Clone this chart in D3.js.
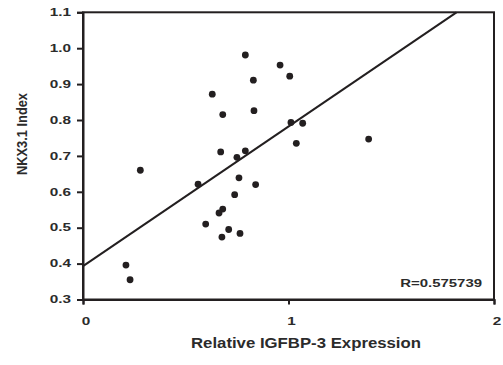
<!DOCTYPE html>
<html>
<head>
<meta charset="utf-8">
<script src="https://cdn.jsdelivr.net/npm/d3@7"></script>
<style>
  html, body { margin: 0; padding: 0; background: #fff; }
  svg { display: block; }
  text { font-family: "Liberation Sans", Arial, sans-serif; font-weight: bold; fill: #2b2b2b; }
</style>
</head>
<body>
<svg id="chart" width="503" height="365"></svg>
<script>
// ---- data ----
const igfbp3 = [0.790, 0.959, 1.006, 0.829, 0.629, 0.680, 0.832, 1.012, 1.069, 1.038,
                0.670, 0.790, 0.749, 0.560, 0.759, 0.840, 0.738, 0.680, 0.662, 0.597,
                0.709, 0.676, 0.764, 0.279, 0.209, 0.229, 1.390];
const nkx31  = [0.981, 0.953, 0.922, 0.911, 0.872, 0.815, 0.826, 0.793, 0.791, 0.735,
                0.711, 0.714, 0.696, 0.621, 0.639, 0.620, 0.592, 0.552, 0.541, 0.510,
                0.495, 0.474, 0.484, 0.660, 0.396, 0.355, 0.747];
const xTicks = [0, 1, 2];
const yTicks = [0.3, 0.4, 0.5, 0.6, 0.7, 0.8, 0.9, 1.0, 1.1];
const fitIntercept = 0.393;
const fitSlope = 0.389;
const rLabel = "R=0.575739";
const xTitle = "Relative IGFBP-3 Expression";
const yTitle = "NKX3.1 Index";

// ---- layout ----
const ink = "#231f20";
const svg = d3.select("#chart");
const x = d3.scaleLinear().domain([0, 2]).range([83, 494]);
const y = d3.scaleLinear().domain([0.3, 1.1]).range([299.5, 12.3]);

// frame (top/right)
svg.append("rect")
  .attr("x", x(0)).attr("y", y(1.1))
  .attr("width", x(2) - x(0)).attr("height", y(0.3) - y(1.1))
  .attr("fill", "none").attr("stroke", ink).attr("stroke-width", 2);

// y axis
const yAxis = svg.append("g").attr("transform", `translate(${x(0)},0)`)
  .call(d3.axisLeft(y).tickValues(yTicks).tickSize(6).tickFormat(""));
yAxis.select(".domain").attr("stroke", ink).attr("stroke-width", 2);
yAxis.selectAll(".tick line").attr("stroke", ink).attr("stroke-width", 2);

// x axis
const xAxis = svg.append("g").attr("transform", `translate(0,${y(0.3)})`)
  .call(d3.axisBottom(x).tickValues(xTicks).tickSize(5).tickFormat(""));
xAxis.select(".domain").attr("stroke", ink).attr("stroke-width", 2);
xAxis.selectAll(".tick line").attr("stroke", ink).attr("stroke-width", 2);

// y tick labels
svg.append("g").selectAll("g").data(yTicks).join("g")
  .attr("transform", d => `translate(71,${y(d) + 3.7}) scale(1.5,1)`)
  .append("text").attr("text-anchor", "end").attr("font-size", 10.2)
  .text(d => d.toFixed(1));

// x tick labels
svg.append("g").selectAll("g").data(xTicks).join("g")
  .attr("transform", d => `translate(${x(d) + 3},325) scale(1.5,1)`)
  .append("text").attr("text-anchor", "middle").attr("font-size", 10.2)
  .text(d => d);

// regression line
const xEnd = (1.1 - fitIntercept) / fitSlope;
svg.append("line")
  .attr("x1", x(0)).attr("y1", y(fitIntercept))
  .attr("x2", x(xEnd)).attr("y2", y(1.1))
  .attr("stroke", ink).attr("stroke-width", 2);

// points
svg.append("g").selectAll("circle").data(igfbp3.map((v, i) => [v, nkx31[i]])).join("circle")
  .attr("cx", d => x(d[0])).attr("cy", d => y(d[1])).attr("r", 3.4).attr("fill", ink);

// R label
svg.append("g").attr("transform", "translate(482,287) scale(1.3,1)")
  .append("text").attr("text-anchor", "end").attr("font-size", 11.5).text(rLabel);

// axis titles
svg.append("text").attr("x", 306).attr("y", 348).attr("text-anchor", "middle")
  .attr("font-size", 14).attr("textLength", 230).attr("lengthAdjust", "spacingAndGlyphs")
  .text(xTitle);
svg.append("text").attr("transform", "translate(26.5,134) rotate(-90)")
  .attr("text-anchor", "middle").attr("font-size", 14.5)
  .attr("textLength", 82).attr("lengthAdjust", "spacingAndGlyphs")
  .text(yTitle);
</script>
</body>
</html>
